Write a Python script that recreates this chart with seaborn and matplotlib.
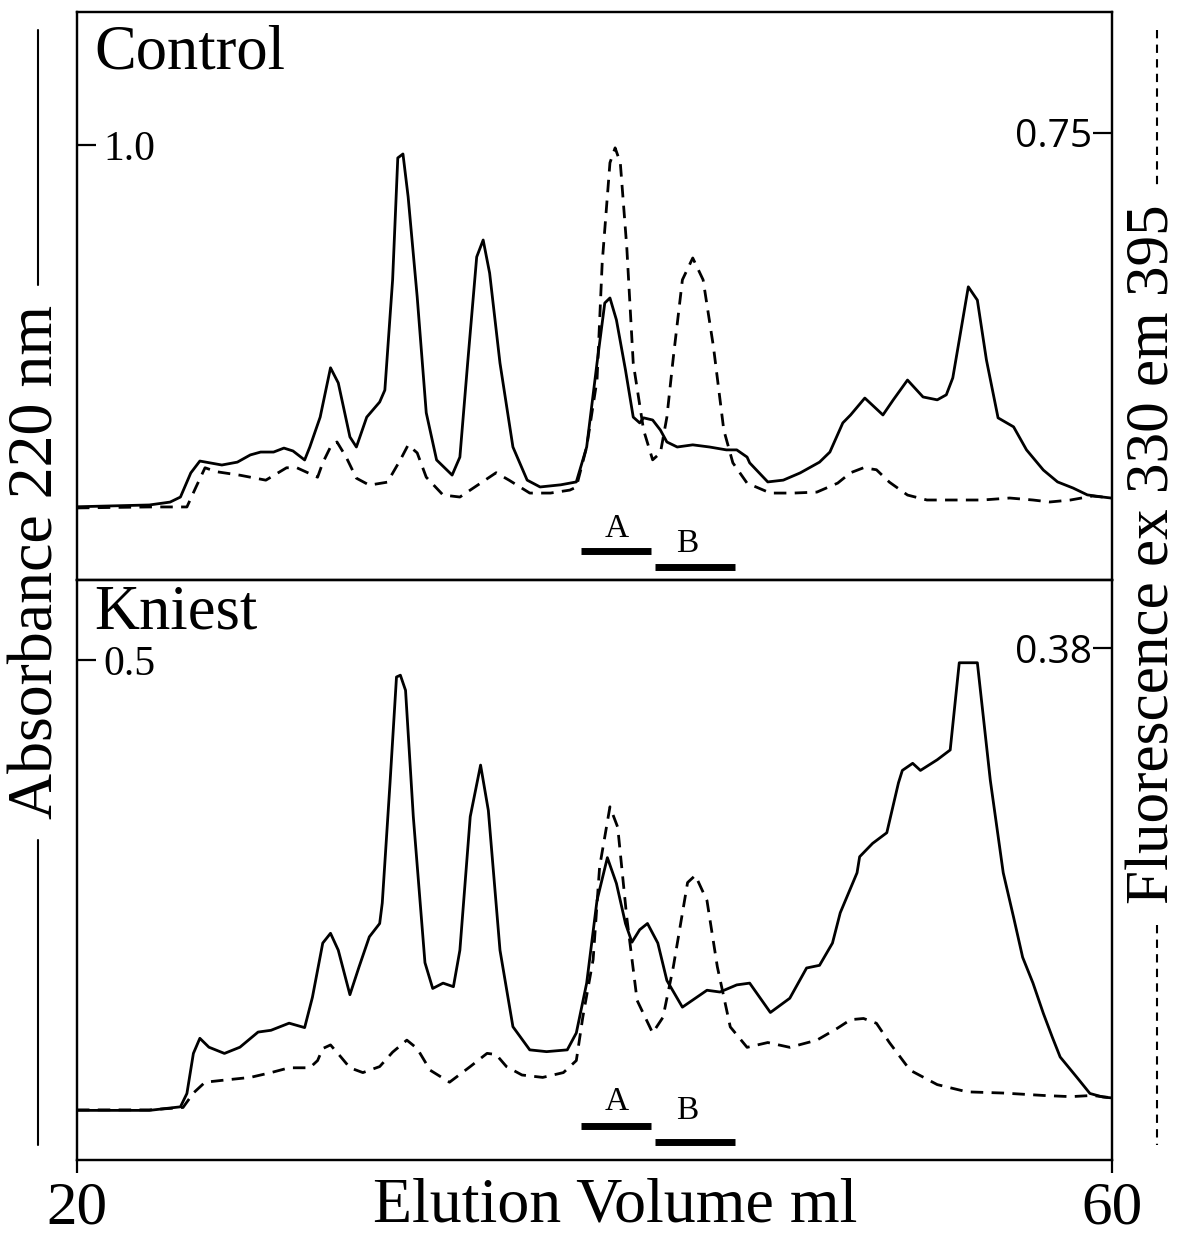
import matplotlib
matplotlib.use("Agg")
import matplotlib.pyplot as plt
import matplotlib.transforms as mtransforms
from matplotlib.lines import Line2D
import pandas as pd
import seaborn as sns

# ---------------- data: elution volume (ml) and detector readings ----------------
# Control: absorbance at 220 nm
ctrl_abs_ml = [20.0, 22.8, 23.6, 24.0, 24.4, 24.75, 25.6, 26.2, 26.7, 27.1, 27.6, 28.0, 28.35,
               28.8, 29.0, 29.4, 29.8, 30.1, 30.55, 30.8, 31.2, 31.7, 31.9, 32.2, 32.4, 32.6,
               32.8, 33.15, 33.5, 33.9, 34.5, 34.8, 35.1, 35.45, 35.7, 35.95, 36.35, 36.85,
               37.4, 37.9, 38.7, 39.3, 39.7, 40.1, 40.4, 40.6, 40.85, 41.2, 41.5, 41.75, 41.9,
               42.25, 42.55, 42.8, 43.2, 43.8, 44.45, 45.1, 45.5, 45.9, 46.0, 46.7, 47.3,
               47.95, 48.7, 49.1, 49.6, 49.9, 50.45, 51.15, 51.55, 52.1, 52.7, 53.25, 53.6,
               53.85, 54.1, 54.45, 54.8, 55.15, 55.6, 56.2, 56.7, 57.35, 57.9, 58.5, 59.05,
               59.65, 60.0]
ctrl_abs = [-0.005, 0.0, 0.008, 0.022, 0.089, 0.122, 0.111, 0.119, 0.139, 0.147, 0.147, 0.158,
            0.150, 0.125, 0.161, 0.244, 0.381, 0.339, 0.189, 0.161, 0.244, 0.286, 0.319, 0.625,
            0.964, 0.975, 0.856, 0.578, 0.256, 0.125, 0.083, 0.133, 0.394, 0.689, 0.736, 0.644,
            0.394, 0.161, 0.069, 0.050, 0.056, 0.064, 0.161, 0.394, 0.561, 0.575, 0.514, 0.375,
            0.244, 0.228, 0.242, 0.236, 0.208, 0.175, 0.161, 0.167, 0.161, 0.153, 0.153, 0.133,
            0.117, 0.064, 0.069, 0.089, 0.119, 0.147, 0.228, 0.250, 0.297, 0.250, 0.292, 0.347,
            0.300, 0.292, 0.306, 0.353, 0.458, 0.606, 0.569, 0.403, 0.242, 0.217, 0.153, 0.097,
            0.064, 0.047, 0.028, 0.022, 0.019]

# Control: fluorescence ex 330 / em 395
ctrl_flu_ml = [20.0, 22.8, 24.25, 24.6, 24.95, 25.4, 26.3, 27.3, 28.1, 28.5, 29.3, 29.5, 29.8,
               30.05, 30.4, 30.8, 31.3, 32.0, 32.5, 32.8, 33.15, 33.5, 34.15, 34.8, 35.6, 36.2,
               36.7, 37.5, 38.3, 39.05, 39.3, 39.7, 40.1, 40.3, 40.6, 40.8, 41.0, 41.25, 41.5,
               41.9, 42.25, 42.55, 42.8, 43.05, 43.4, 43.8, 44.2, 44.6, 45.0, 45.35, 45.9, 46.8,
               47.7, 48.6, 49.4, 49.9, 50.4, 50.9, 51.4, 52.1, 52.85, 54.0, 55.0, 56.05, 56.95,
               57.6, 58.4, 59.25, 60.0]
ctrl_flu = [-0.006, -0.004, -0.004, 0.036, 0.075, 0.067, 0.060, 0.050, 0.075, 0.075, 0.056,
            0.085, 0.117, 0.127, 0.097, 0.054, 0.040, 0.046, 0.091, 0.121, 0.105, 0.056, 0.020,
            0.016, 0.044, 0.065, 0.050, 0.024, 0.024, 0.030, 0.036, 0.117, 0.252, 0.488, 0.690,
            0.720, 0.690, 0.520, 0.286, 0.151, 0.091, 0.105, 0.177, 0.298, 0.454, 0.498, 0.454,
            0.319, 0.151, 0.085, 0.044, 0.024, 0.024, 0.026, 0.044, 0.065, 0.075, 0.071, 0.046,
            0.020, 0.010, 0.010, 0.010, 0.014, 0.010, 0.006, 0.010, 0.018, 0.014]

# Kniest: absorbance at 220 nm
kn_abs_ml = [20.0, 22.8, 24.0, 24.25, 24.5, 24.75, 25.1, 25.7, 26.3, 27.0, 27.5, 28.2, 28.8,
             29.1, 29.5, 29.8, 30.1, 30.55, 30.9, 31.3, 31.7, 31.8, 32.1, 32.35, 32.5, 32.7,
             33.0, 33.45, 33.75, 34.15, 34.55, 34.8, 35.2, 35.6, 35.9, 36.35, 36.85, 37.5,
             38.15, 38.95, 39.3, 39.7, 40.1, 40.5, 40.85, 41.2, 41.45, 41.75, 42.05, 42.45,
             42.8, 43.4, 43.8, 44.35, 44.85, 45.5, 46.0, 46.8, 47.55, 48.2, 48.7, 49.2, 49.5,
             50.15, 50.25, 50.75, 51.3, 51.75, 51.9, 52.3, 52.6, 53.25, 53.75, 54.1, 54.8,
             55.3, 55.8, 56.2, 56.55, 56.95, 57.35, 57.7, 58.0, 58.65, 59.15, 59.65, 60.0]
kn_abs = [-0.006, -0.006, -0.002, 0.013, 0.058, 0.075, 0.065, 0.058, 0.065, 0.082, 0.084, 0.092,
          0.087, 0.121, 0.182, 0.193, 0.174, 0.124, 0.155, 0.189, 0.204, 0.227, 0.362, 0.481,
          0.483, 0.466, 0.324, 0.160, 0.131, 0.137, 0.133, 0.174, 0.324, 0.382, 0.331, 0.174,
          0.088, 0.062, 0.060, 0.062, 0.081, 0.137, 0.230, 0.278, 0.249, 0.204, 0.183, 0.197,
          0.204, 0.182, 0.140, 0.110, 0.118, 0.129, 0.127, 0.135, 0.137, 0.104, 0.120, 0.154,
          0.157, 0.182, 0.216, 0.261, 0.279, 0.294, 0.306, 0.362, 0.376, 0.384, 0.376, 0.388,
          0.399, 0.497, 0.497, 0.365, 0.261, 0.211, 0.166, 0.137, 0.103, 0.076, 0.054, 0.031,
          0.013, 0.009, 0.008]

# Kniest: fluorescence ex 330 / em 395
kn_flu_ml = [20.0, 22.8, 24.1, 24.5, 24.95, 25.8, 26.7, 27.5, 28.2, 29.0, 29.3, 29.5, 29.8,
             30.2, 30.55, 31.05, 31.7, 32.2, 32.75, 33.15, 33.65, 34.4, 35.2, 35.85, 36.2, 36.6,
             37.2, 38.0, 38.8, 39.3, 39.55, 39.95, 40.2, 40.6, 40.9, 41.25, 41.65, 42.25, 42.65,
             43.05, 43.6, 43.9, 44.35, 44.75, 45.25, 45.9, 46.7, 47.55, 48.6, 49.4, 49.9, 50.4,
             50.9, 51.4, 52.2, 53.25, 54.4, 55.8, 57.35, 58.4, 59.25, 60.0]
kn_flu = [-0.004, -0.004, -0.002, 0.010, 0.019, 0.021, 0.023, 0.027, 0.031, 0.031, 0.037, 0.047,
          0.050, 0.040, 0.031, 0.027, 0.032, 0.044, 0.054, 0.047, 0.029, 0.019, 0.032, 0.043,
          0.042, 0.032, 0.025, 0.023, 0.027, 0.037, 0.073, 0.121, 0.198, 0.248, 0.231, 0.156,
          0.087, 0.060, 0.073, 0.115, 0.185, 0.191, 0.170, 0.115, 0.065, 0.048, 0.052, 0.048,
          0.054, 0.064, 0.071, 0.072, 0.068, 0.052, 0.029, 0.017, 0.011, 0.010, 0.008, 0.007,
          0.008, 0.006]

# pooled fractions (ml)
pool_a = (39.5, 42.2)
pool_b = (42.35, 45.45)

panel_names = ["Control", "Kniest"]
abs_ticks = [1.0, 0.5]
abs_tick_labels = ["1.0", "0.5"]
flu_ticks = [0.75, 0.38]
flu_tick_labels = ["0.75", "0.38"]
x_ticks = [20, 60]

# ---------------- styling ----------------
sns.set_style("white")
plt.rcParams["font.family"] = ["Liberation Serif", "DejaVu Serif"]
plt.rcParams.update({
    "text.color": "black",
    "axes.labelcolor": "black",
    "xtick.color": "black",
    "ytick.color": "black",
    "axes.edgecolor": "black",
})
SERIF = "Liberation Serif"
SANS = "Open Sans"
LW = 2.0
DASH = (0, (4.5, 3.0))

fig = plt.figure(figsize=(11.82, 12.35), dpi=100)
left, width = 0.0651, 0.8756
ax_top = fig.add_axes([left, 0.5304, width, 0.4599])
ax_bot = fig.add_axes([left, 0.0607, width, 0.4696])

panels = [
    dict(ax=ax_top, abs_x=ctrl_abs_ml, abs_y=ctrl_abs, flu_x=ctrl_flu_ml, flu_y=ctrl_flu,
         abs_lim=(-0.2083, 1.3694), flu_lim=(-0.1512, 0.9940),
         name_y=0.901, bar_a=0.051, bar_b=0.023, lab_a=0.064, lab_b=0.037),
    dict(ax=ax_bot, abs_x=kn_abs_ml, abs_y=kn_abs, flu_x=kn_flu_ml, flu_y=kn_flu,
         abs_lim=(-0.0618, 0.5899), flu_lim=(-0.0457, 0.4365),
         name_y=0.917, bar_a=0.059, bar_b=0.031, lab_a=0.075, lab_b=0.059),
]

for i, p in enumerate(panels):
    ax = p["ax"]
    df_abs = pd.DataFrame({"ml": p["abs_x"], "value": p["abs_y"]})
    df_flu = pd.DataFrame({"ml": p["flu_x"], "value": p["flu_y"]})

    sns.lineplot(data=df_abs, x="ml", y="value", ax=ax, color="black", lw=LW,
                 estimator=None, sort=False, solid_joinstyle="round")
    ax.set_xlim(20, 60)
    ax.set_ylim(*p["abs_lim"])

    ax2 = ax.twinx()
    sns.lineplot(data=df_flu, x="ml", y="value", ax=ax2, color="black", lw=LW,
                 linestyle=DASH, estimator=None, sort=False, dash_joinstyle="round")
    ax2.set_ylim(*p["flu_lim"])
    ax2.set_xlim(20, 60)

    for a in (ax, ax2):
        a.set_xlabel("")
        a.set_ylabel("")
        for s in a.spines.values():
            s.set_linewidth(1.6)
            s.set_color("black")

    # left (absorbance) tick, drawn inside with label inside
    ax.set_yticks([abs_ticks[i]])
    ax.set_yticklabels([abs_tick_labels[i]], fontfamily=SERIF, fontsize=30)
    ax.tick_params(axis="y", direction="in", length=14, width=1.6, pad=-19, left=True)
    for t in ax.get_yticklabels():
        t.set_horizontalalignment("left")

    # right (fluorescence) tick
    ax2.set_yticks([flu_ticks[i]])
    ax2.set_yticklabels([flu_tick_labels[i]], fontfamily=SANS, fontsize=28)
    ax2.tick_params(axis="y", direction="in", length=14, width=1.6, pad=-14.5, right=True)
    for t in ax2.get_yticklabels():
        t.set_horizontalalignment("right")

    ax.text(0.017, p["name_y"], panel_names[i], transform=ax.transAxes,
            fontsize=45, fontfamily=SERIF, va="baseline", ha="left")

    # pooled fractions A and B
    trans = mtransforms.blended_transform_factory(ax.transData, ax.transAxes)
    ax.plot(pool_a, [p["bar_a"]] * 2, color="black", lw=5, solid_capstyle="butt",
            transform=trans)
    ax.plot(pool_b, [p["bar_b"]] * 2, color="black", lw=5, solid_capstyle="butt",
            transform=trans)
    ax.text(sum(pool_a) / 2, p["lab_a"], "A", transform=trans, fontsize=24,
            fontfamily=SERIF, ha="center", va="bottom")
    ax.text(sum(pool_b) / 2 - 0.3, p["lab_b"], "B", transform=trans, fontsize=24,
            fontfamily=SERIF, ha="center", va="bottom")

ax_top.set_xticks([])
ax_top.tick_params(axis="x", bottom=False, labelbottom=False)
ax_bot.set_xticks(x_ticks)
ax_bot.set_xticklabels([str(v) for v in x_ticks], fontsize=44, fontfamily=SERIF)
ax_bot.tick_params(axis="x", direction="out", length=9, width=1.6, pad=6, bottom=True)
ax_bot.set_xlabel("Elution Volume ml", fontsize=46, fontfamily=SERIF)
ax_bot.xaxis.set_label_coords(0.52, -0.030)

# side axis titles with their line keys
fig.text(0.032, 0.545, "Absorbance 220 nm", rotation=90, fontsize=46, fontfamily=SERIF,
         ha="center", va="center")
fig.add_artist(Line2D([0.032, 0.032], [0.976, 0.769], transform=fig.transFigure,
                      color="black", lw=1.5))
fig.add_artist(Line2D([0.032, 0.032], [0.320, 0.073], transform=fig.transFigure,
                      color="black", lw=1.5))

fig.text(0.976, 0.551, "Fluorescence ex 330 em 395", rotation=90, fontsize=44,
         fontfamily=SERIF, ha="center", va="center")
fig.add_artist(Line2D([0.979, 0.979], [0.976, 0.848], transform=fig.transFigure,
                      color="black", lw=1.5, linestyle=(0, (4, 3))))
fig.add_artist(Line2D([0.979, 0.979], [0.251, 0.073], transform=fig.transFigure,
                      color="black", lw=1.5, linestyle=(0, (4, 3))))

fig.savefig("out.png", dpi=100, facecolor="white")
